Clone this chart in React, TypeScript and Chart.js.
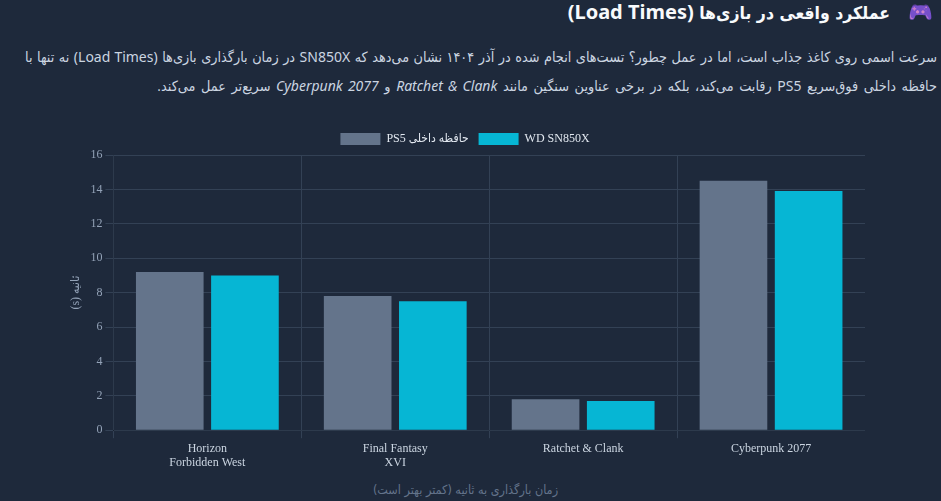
import { useEffect, useRef } from "react"
import Chart from "chart.js/auto"

const games = [["Horizon", "Forbidden West"], ["Final Fantasy", "XVI"], "Ratchet & Clank", "Cyberpunk 2077"]
const ps5Times = [9.2, 7.8, 1.8, 14.5]
const sn850xTimes = [9.0, 7.5, 1.7, 13.9]
const seriesNames = ["حافظه داخلی PS5", "WD SN850X"]
const axisTitle = "ثانیه (s)"

const persianStack = "'DejaVu Sans Condensed', 'DejaVu Sans', sans-serif"
const sansStack = "'Noto Sans', " + persianStack
const serifStack = "'Liberation Serif', 'DejaVu Sans Condensed', serif"

const latin = { fontFamily: "'Noto Sans', sans-serif", fontStretch: "normal" as const, fontSize: 14 }

export default function App() {
    const chartRef = useRef<HTMLCanvasElement>(null)

    useEffect(() => {
        document.body.style.margin = "0"
        document.body.style.background = "#1e293b"
        if (!chartRef.current) return

        const chart = new Chart(chartRef.current, {
            type: "bar",
            data: {
                labels: games,
                datasets: [
                    { label: seriesNames[0], data: ps5Times, backgroundColor: "#64748b" },
                    { label: seriesNames[1], data: sn850xTimes, backgroundColor: "#06b6d4" },
                ],
            },
            options: {
                responsive: false,
                animation: false,
                plugins: {
                    legend: {
                        labels: {
                            color: "#e2e8f0",
                            font: { family: serifStack, size: 12 },
                        },
                    },
                    tooltip: { enabled: false },
                },
                scales: {
                    x: {
                        ticks: { color: "#cbd5e1", font: { family: serifStack, size: 12 } },
                        grid: { color: "#334155" },
                    },
                    y: {
                        beginAtZero: true,
                        max: 16,
                        ticks: { stepSize: 2, color: "#94a3b8", font: { family: serifStack, size: 12 } },
                        grid: { color: "#334155" },
                        title: {
                            display: true,
                            text: axisTitle,
                            color: "#94a3b8",
                            font: { family: serifStack, size: 12 },
                        },
                    },
                },
            },
        })

        return () => chart.destroy()
    }, [])

    return (
        <div dir="rtl" style={{ position: "relative", width: 941, height: 501, overflow: "hidden", background: "#1e293b", fontFamily: sansStack }}>
            <div style={{ position: "absolute", top: -3, right: 8, fontSize: 20, lineHeight: "30px", whiteSpace: "nowrap", filter: "sepia(1) saturate(5) hue-rotate(220deg) brightness(0.8)" }}>🎮</div>
            <div style={{ position: "absolute", top: -3, right: 51, fontSize: 17.5, lineHeight: "30px", fontWeight: 700, color: "#f8fafc", whiteSpace: "nowrap", fontFamily: persianStack, fontStretch: "condensed" }}>
                عملکرد واقعی در بازی‌ها <span style={{ ...latin, fontSize: 20 }}>(Load Times)</span>
            </div>
            <p style={{ position: "absolute", top: 43, left: 25, width: 912, margin: 0, fontSize: 14.3, lineHeight: "28.8px", color: "#cbd5e1", fontFamily: persianStack, fontStretch: "condensed" }}>
                <span style={{ display: "block", textAlign: "justify", textAlignLast: "justify" }}>
                    سرعت اسمی روی کاغذ جذاب است، اما در عمل چطور؟ تست‌های انجام شده در آذر ۱۴۰۴ نشان می‌دهد که <span style={latin}>SN850X</span> در زمان بارگذاری بازی‌ها <span style={latin}>(Load Times)</span> نه تنها با
                </span>
                <span style={{ display: "block", wordSpacing: 1.5 }}>
                    حافظه داخلی فوق‌سریع <span style={latin}>PS5</span> رقابت می‌کند، بلکه در برخی عناوین سنگین مانند <em style={latin}>Ratchet & Clank</em> و <em style={latin}>Cyberpunk 2077</em> سریع‌تر عمل می‌کند.
                </span>
            </p>
            <canvas ref={chartRef} width={800} height={350} style={{ position: "absolute", left: 65, top: 123 }} />
            <div style={{ position: "absolute", top: 480, left: 0, width: 931, textAlign: "center", fontSize: 12.5, lineHeight: "20px", color: "#64748b", fontFamily: persianStack, fontStretch: "condensed" }}>
                زمان بارگذاری به ثانیه (کمتر بهتر است)
            </div>
        </div>
    )
}
